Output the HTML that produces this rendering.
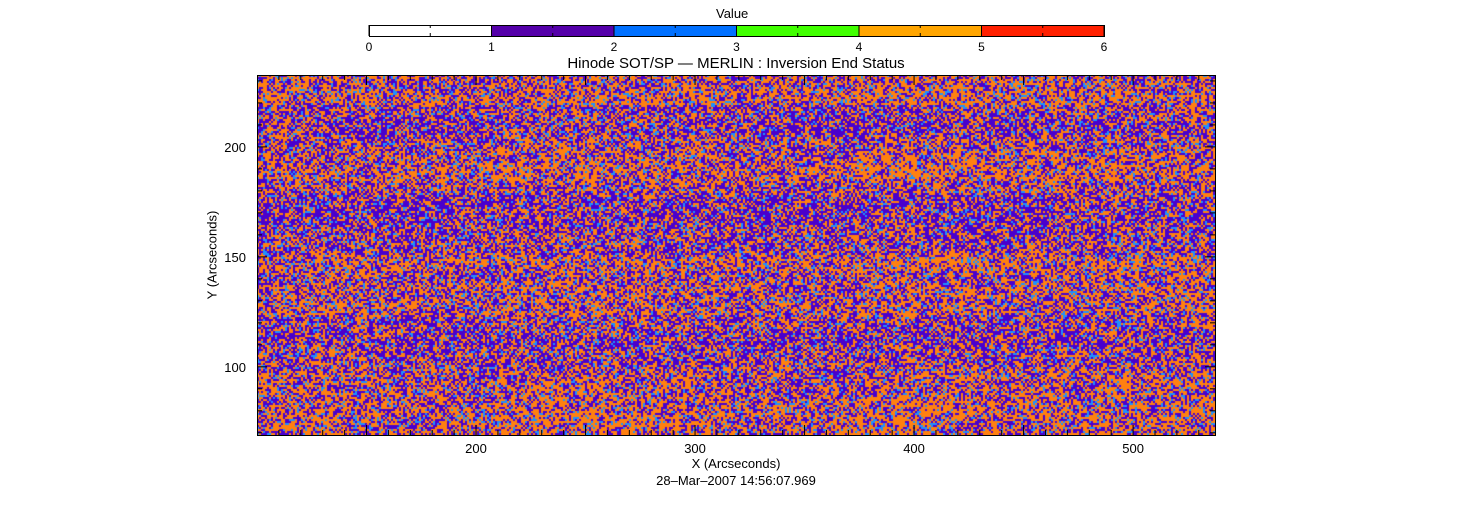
<!DOCTYPE html>
<html><head><meta charset="utf-8"><style>
body{margin:0;background:#fff;width:1471px;height:512px;overflow:hidden;position:relative;font-family:"Liberation Sans",sans-serif;color:#000}
.t{position:absolute;white-space:nowrap;font-size:13px}
</style></head><body>
<div class="t" style="left:716px;top:6px">Value</div>
<svg id="cb" style="position:absolute;left:0;top:0" width="1471" height="60"></svg>
<div class="t" style="left:736px;top:55px;transform:translateX(-50%);font-size:15px">Hinode SOT/SP — MERLIN : Inversion End Status</div>
<canvas id="hm" width="958" height="360" style="position:absolute;left:257px;top:75px"></canvas>
<svg id="ax" style="position:absolute;left:0;top:0" width="1471" height="512"></svg>
<div class="t" style="left:736px;top:456px;transform:translateX(-50%)">X (Arcseconds)</div>
<div class="t" style="left:736px;top:473px;transform:translateX(-50%)">28–Mar–2007 14:56:07.969</div>
<div class="t" style="left:212px;top:255px;transform:translate(-50%,-50%) rotate(-90deg)">Y (Arcseconds)</div>
<script>
const cbValues=[0,1,2,3,4,5,6];
const cbColors=['#ffffff','#5500aa','#0070ff','#40ff00','#ffa500','#ff2000'];
const xTicks=[200,300,400,500];
const yTicks=[100,150,200];
const xRange=[100,537.4];
const yRange=[69,232.7];
const rowOrangeFrac=[0.5,0.55,0.4,0.35,0.45,0.5,0.55,0.45,0.35,0.35,0.4,0.4,0.55,0.45,0.5,0.5,0.4,0.35,0.4,0.45,0.5,0.5,0.55,0.55];
const colMod=[1.0,0.95,1.05,1.0,0.95,1.05,1.0,1.05];
const NS='http://www.w3.org/2000/svg';
function mk(p,tag,a){const e=document.createElementNS(NS,tag);for(const k in a)e.setAttribute(k,a[k]);p.appendChild(e);return e;}
const cb=document.getElementById('cb');
const cbX=v=>369+v*(1104-369)/6;
for(let i=0;i<cbColors.length;i++){
 const r=mk(cb,'rect',{x:cbX(cbValues[i]),y:25,width:cbX(cbValues[i+1])-cbX(cbValues[i]),height:11,fill:cbColors[i]});
 
 
}
mk(cb,'rect',{x:369.5,y:25.5,width:735,height:11,fill:'none',stroke:'#000'});
for(let v=0;v<=6;v+=0.5){const x=cbX(v);mk(cb,'line',{x1:x,x2:x,y1:25,y2:v%1?28:36,stroke:'#000'});mk(cb,'line',{x1:x,x2:x,y1:36,y2:33,stroke:'#000'});}
cbValues.forEach(v=>{const t=mk(cb,'text',{x:cbX(v),y:51,'text-anchor':'middle','font-size':12,'font-family':'Liberation Sans, sans-serif'});t.textContent=v;
 
 });
const c=document.getElementById('hm').getContext('2d');
const W=958,H=360,cs=2;
function h(i,j){let n=(i*374761393+j*668265263)|0;n=(n^(n>>>13))*1274126177|0;n^=n>>>16;return (n>>>0)/4294967296;}
for(let j=0;j<H/cs;j++){const rb=Math.min(rowOrangeFrac.length-1,Math.floor(j*cs/H*rowOrangeFrac.length));
 for(let i=0;i<W/cs;i++){const cbn=Math.min(colMod.length-1,Math.floor(i*cs/W*colMod.length));
  const f=rowOrangeFrac[rb]*colMod[cbn];const r=h(i,j);
  c.fillStyle=r<f?'#ff8010':(r<f+0.12?'#1e90ff':'#4a00cc');c.fillRect(i*cs,j*cs,cs,cs);}}
const ax=document.getElementById('ax');
const X=v=>257+(v-xRange[0])/(xRange[1]-xRange[0])*958;
const Y=v=>435-(v-yRange[0])/(yRange[1]-yRange[0])*360;
mk(ax,'rect',{x:257.5,y:75.5,width:958,height:360,fill:'none',stroke:'#000'});
for(let v=110;v<=530;v+=10){const x=X(v);const L=v%50?5:10;mk(ax,'line',{x1:x,x2:x,y1:435,y2:435-L,stroke:'#000'});mk(ax,'line',{x1:x,x2:x,y1:75,y2:75+L,stroke:'#000'});}
for(let v=70;v<=230;v+=10){const y=Y(v);const L=v%50?5:10;mk(ax,'line',{x1:257,x2:257+L,y1:y,y2:y,stroke:'#000'});mk(ax,'line',{x1:1215,x2:1215-L,y1:y,y2:y,stroke:'#000'});}
xTicks.forEach(v=>{const t=mk(ax,'text',{x:X(v),y:453,'text-anchor':'middle','font-size':13,'font-family':'Liberation Sans, sans-serif'});t.textContent=v;
 
 });
yTicks.forEach(v=>{const t=mk(ax,'text',{x:246,y:Y(v)+5,'text-anchor':'end','font-size':13,'font-family':'Liberation Sans, sans-serif'});t.textContent=v;
 
 });
</script>
</body></html>
